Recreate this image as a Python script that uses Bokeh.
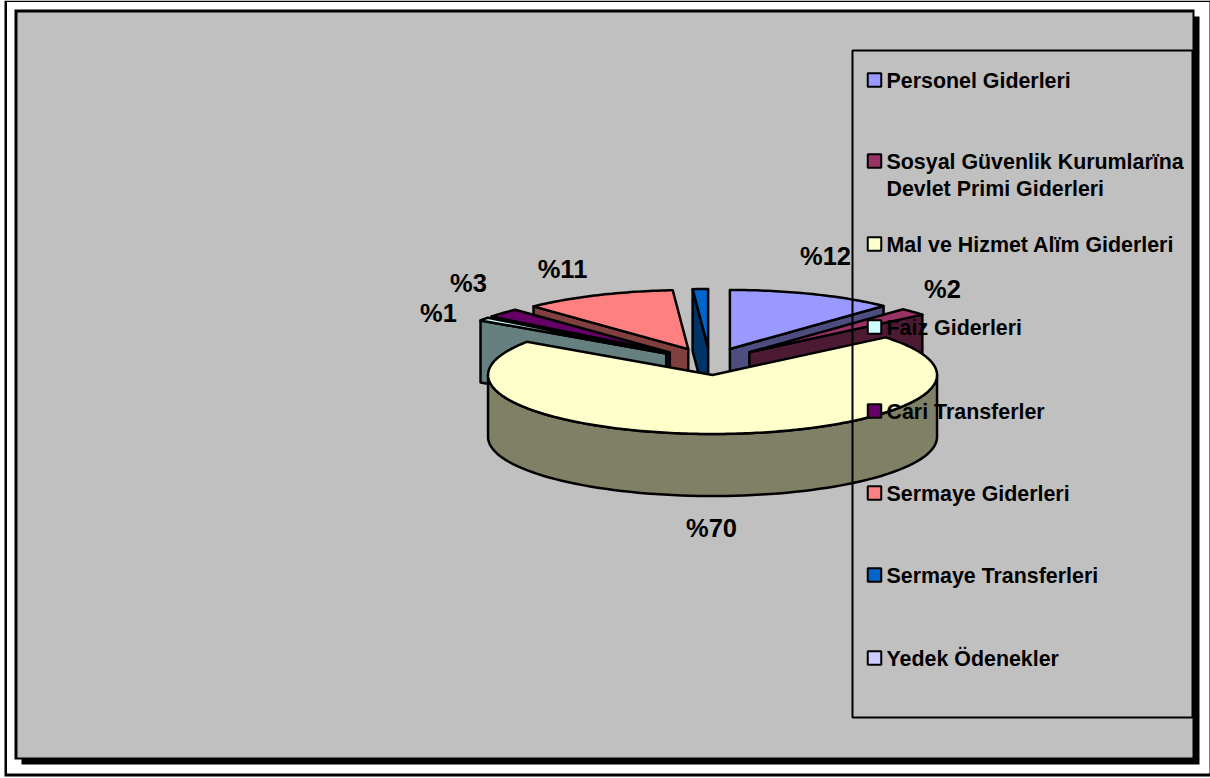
import numpy as np
from bokeh.plotting import figure
from bokeh.core.properties import value
from bokeh.embed import file_html
from bokeh.resources import INLINE

# ---- chart data ----
categories = ["Personel Giderleri", "Sosyal Güvenlik Kurumlarïna\nDevlet Primi Giderleri",
              "Mal ve Hizmet Alïm Giderleri", "Faiz Giderleri", "Cari Transferler",
              "Sermaye Giderleri", "Sermaye Transferleri", "Yedek Ödenekler"]
shares = [12, 2, 70.5, 0.9, 2.5, 11, 1.1, 0]
slice_colors = ["#9999ff", "#993366", "#ffffcc", "#ccffff", "#660066", "#ff8080", "#0066cc", "#ccccff"]
wall_colors = ["#4d4d80", "#4d1a33", "#808066", "#668080", "#330033", "#804040", "#003366", "#666680"]
share_labels = ["%12", "%2", "%70", "%1", "%3", "%11"]

# ---- layout (pixels, the ranges map 1:1 to the page) ----
label_x = [825, 942, 711, 438, 468, 562]
label_y = [255, 288, 527, 312, 282, 268]
legend_y = [80, 161, 244, 327, 411, 493, 575, 658]
CX, CY, RX, RY, DEPTH, EXPLODE_X, EXPLODE_Y = 709.5, 361.0, 224.5, 59.0, 62.0, 54.0, 13.5
FONT = value("Liberation Sans")

p = figure(width=1210, height=778, output_backend="svg", toolbar_location=None,
           x_range=(0, 1210), y_range=(778, 0), min_border=0,
           outline_line_color=None, background_fill_color="white",
           border_fill_color="white", styles={"position": "absolute", "left": "0px", "top": "0px"})
p.axis.visible = False
p.grid.visible = False

# outer frame, chart area with its shadow
p.quad(left=[4], right=[1210], top=[0], bottom=[776], fill_color="black", line_color=None)
p.quad(left=[6.5], right=[1209], top=[1.5], bottom=[773], fill_color="white", line_color=None)
p.quad(left=[21], right=[1199], top=[16], bottom=[764], fill_color="black", line_color=None)
p.quad(left=[14], right=[1194], top=[9], bottom=[759], fill_color="black", line_color=None)
p.quad(left=[17], right=[1192], top=[12], bottom=[757], fill_color="#c0c0c0", line_color=None)

# exploded 3D pie computed from the shares
edges = np.cumsum([0] + shares) / sum(shares) * 2 * np.pi
def pt(c, t):
    return c[0] + RX * np.sin(t), c[1] - RY * np.cos(t)

xs, ys, fills = [], [], []
def add(x, y, col):
    xs.append(list(x)); ys.append(list(y)); fills.append(col)

for i in [6, 5, 4, 3, 0, 1, 2]:
    t0, t1 = edges[i], edges[i + 1]
    mid = (t0 + t1) / 2
    c = (CX + EXPLODE_X * np.sin(mid), CY - EXPLODE_Y * np.cos(mid))
    if i == 2:      # outer curved wall of the large slice, front half only
        a = np.linspace(max(t0, np.pi / 2), min(t1, 3 * np.pi / 2), 80)
        wx, wy = pt(c, a)
        add(np.r_[wx, wx[::-1]], np.r_[wy, wy[::-1] + DEPTH], wall_colors[i])
    else:           # radial wall that faces the viewer
        t = t1 if mid < np.pi else t0
        px, py = pt(c, t)
        add([c[0], px, px, c[0]], [c[1], py, py + DEPTH, c[1] + DEPTH], wall_colors[i])
    a = np.linspace(t0, t1, max(4, int((t1 - t0) * 60)))
    ax, ay = pt(c, a)
    add(np.r_[c[0], ax], np.r_[c[1], ay], slice_colors[i])

p.patches(xs, ys, fill_color=fills, line_color="black", line_width=2.5, line_join="round")

p.text(label_x, label_y, text=share_labels, text_font=FONT, text_font_style="bold", text_font_size="25.5px",
       text_align="center", text_baseline="middle", text_color="black")

# legend
p.quad(left=[852], right=[1192], top=[50], bottom=[717], fill_alpha=0, line_color="black", line_width=2)
p.rect([874] * 8, [y - 0.5 for y in legend_y], width=13.5, height=13.5, fill_color=slice_colors,
       line_color="black", line_width=2)
for name, y in zip(categories, legend_y):
    for j, part in enumerate(name.split("\n")):
        p.text([886], [y + j * 27], text=[part], text_font=FONT, text_font_style="bold", text_font_size="21.4px",
               text_align="left", text_baseline="middle", text_color="black")

open("out.html", "w").write(file_html(p, INLINE))
